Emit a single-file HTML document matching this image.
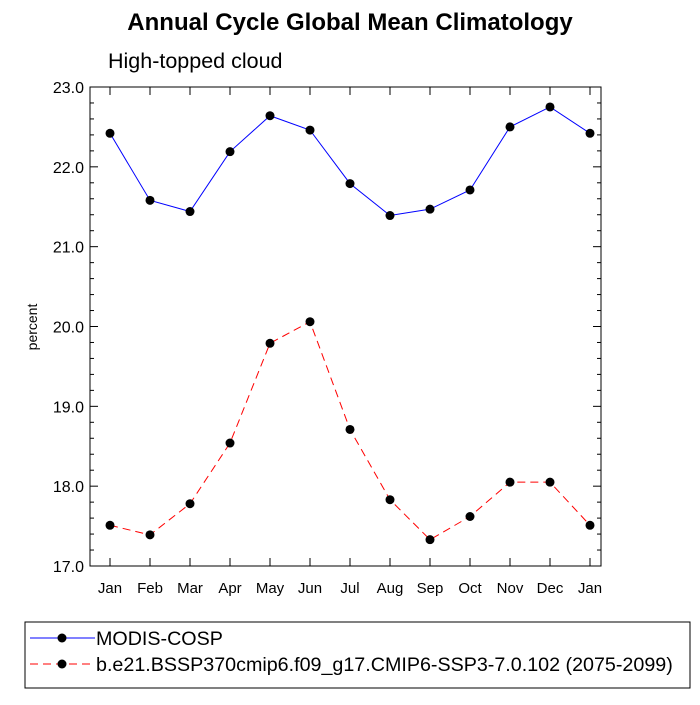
<!DOCTYPE html>
<html><head><meta charset="utf-8"><style>
body{margin:0;background:#fff;font-family:"Liberation Sans",sans-serif}
</style></head><body>
<svg id="chart" width="700" height="700" xmlns="http://www.w3.org/2000/svg" font-family="Liberation Sans, sans-serif">
<rect width="700" height="700" fill="#fff"/>
<text x="350" y="30" text-anchor="middle" font-size="24" font-weight="bold">Annual Cycle Global Mean Climatology</text>
<text x="108" y="68" font-size="21.5">High-topped cloud</text>
<text transform="translate(37,327) rotate(-90)" text-anchor="middle" font-size="14">percent</text>
<g id="axes"></g>
<g id="series"></g>
<g>
<rect x="25" y="622" width="665" height="66" fill="none" stroke="#000" stroke-width="1"/>
<line x1="30" y1="638" x2="95" y2="638" stroke="#00f" stroke-width="1"/>
<circle cx="62" cy="638" r="4.5" fill="#000"/>
<text x="96" y="645" font-size="19.7">MODIS-COSP</text>
<line x1="30" y1="664" x2="95" y2="664" stroke="#f00" stroke-width="1" stroke-dasharray="8,5"/>
<circle cx="62" cy="664" r="4.5" fill="#000"/>
<text x="96" y="671" font-size="19.7">b.e21.BSSP370cmip6.f09_g17.CMIP6-SSP3-7.0.102 (2075-2099)</text>
</g>
</svg>
<script>
const months=["Jan","Feb","Mar","Apr","May","Jun","Jul","Aug","Sep","Oct","Nov","Dec","Jan"];
const modis=[22.42,21.58,21.44,22.19,22.64,22.46,21.79,21.39,21.47,21.71,22.50,22.75,22.42];
const model=[17.51,17.39,17.78,18.54,19.79,20.06,18.71,17.83,17.33,17.62,18.05,18.05,17.51];
const yTicks=["17.0","18.0","19.0","20.0","21.0","22.0","23.0"];
const NS="http://www.w3.org/2000/svg";
const L=90,R=601,T=87,B=566,ymin=17,ymax=23;
const xs=i=>110+i*40;
const ys=v=>B-(v-ymin)/(ymax-ymin)*(B-T);
function mk(t,a,p){const e=document.createElementNS(NS,t);for(const k in a)e.setAttribute(k,a[k]);p.appendChild(e);return e;}
const ax=document.getElementById('axes');
const fr=mk('rect',{x:L,y:T,width:R-L,height:B-T,fill:'none',stroke:'#000','stroke-width':1},ax);


months.forEach((m,i)=>{
  const x=xs(i);
  mk('line',{x1:x,y1:B,x2:x,y2:B-8,stroke:'#000'},ax);
  mk('line',{x1:x,y1:T,x2:x,y2:T+8,stroke:'#000'},ax);
  const t=mk('text',{x:x,y:B+27,'text-anchor':'middle','font-size':'15'},ax);
  t.textContent=m;
  
  
});
yTicks.forEach((s,i)=>{
  const v=parseFloat(s),y=ys(v);
  mk('line',{x1:L,y1:y,x2:L+8,y2:y,stroke:'#000'},ax);
  mk('line',{x1:R,y1:y,x2:R-8,y2:y,stroke:'#000'},ax);
  const t=mk('text',{x:L-6,y:y+6,'text-anchor':'end','font-size':'16'},ax);
  t.textContent=s;
  
  
  if(i<yTicks.length-1){for(let k=1;k<5;k++){const yy=ys(v+k*0.2);
    mk('line',{x1:L,y1:yy,x2:L+4,y2:yy,stroke:'#000'},ax);
    mk('line',{x1:R,y1:yy,x2:R-4,y2:yy,stroke:'#000'},ax);}}
});
const sg=document.getElementById('series');
function series(vals,color,dash,name){
  const pl=mk('polyline',{points:vals.map((v,i)=>xs(i)+','+ys(v)).join(' '),fill:'none',stroke:color,'stroke-width':1},sg);
  if(dash)pl.setAttribute('stroke-dasharray',dash);
  
  
  vals.forEach((v,i)=>{const c=mk('circle',{cx:xs(i),cy:ys(v),r:4.5,fill:'#000'},sg);
    
    });
}
series(modis,'#00f',null,'modis');
series(model,'#f00','8,5','model');
</script>
</body></html>
